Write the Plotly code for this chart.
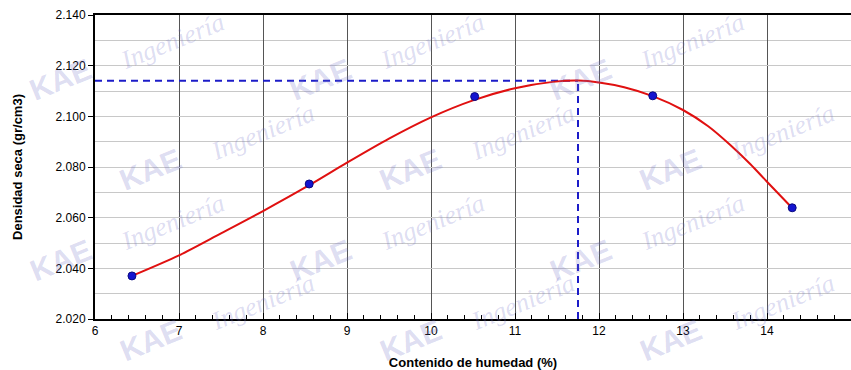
import plotly.graph_objects as go

# Measured points
humedad = [6.44, 8.55, 10.52, 12.64, 14.30]
densidad = [2.037, 2.0733, 2.1078, 2.1081, 2.0639]

# Fitted curve
curva_x = [6.44, 7.0, 7.5, 8.0, 8.55, 9.0, 9.5, 10.0, 10.5, 11.0, 11.45, 11.75,
           12.0, 12.3, 12.64, 13.0, 13.3, 13.56, 13.8, 14.0, 14.3]
curva_y = [2.0370, 2.0451, 2.0538, 2.0626, 2.0728, 2.0817, 2.0912, 2.0996, 2.1063, 2.1111, 2.1136, 2.1141,
           2.1134, 2.1115, 2.1080, 2.1025, 2.0961, 2.0888, 2.0812, 2.0742, 2.0638]

# Optimum
hum_opt = 11.75
dens_opt = 2.114

x_min, x_max = 6, 15
y_min, y_max = 2.020, 2.140

fig = go.Figure()

# watermark (pixel centres converted to paper coordinates)
wm_color = "rgba(110,110,200,0.24)"
wm_rows = [(80, [60, 320, 580]), (170, [150, 410, 670]), (260, [60, 320, 580]), (340, [150, 410, 670])]


def to_paper(px, py):
    return (px - 95) / 756, 1 - (py - 15) / 304


for (py, xs) in wm_rows:
    for px in xs:
        kx, ky = to_paper(px, py)
        ix, iy = to_paper(px + 112, py - 38)
        fig.add_annotation(xref="paper", yref="paper", x=kx, y=ky, xanchor="center", yanchor="middle",
                           text="<b>KAE</b>", showarrow=False, textangle=-22,
                           font=dict(family="Liberation Sans", size=30, color=wm_color))
        fig.add_annotation(xref="paper", yref="paper", x=ix, y=iy, xanchor="center", yanchor="middle",
                           text="<i>Ingeniería</i>", showarrow=False, textangle=-22,
                           font=dict(family="Liberation Serif", size=26, color=wm_color))

fig.add_trace(go.Scatter(x=[x_min, hum_opt], y=[dens_opt, dens_opt], mode="lines",
                         line=dict(color="#1c1cc8", width=2, dash="7px,5px"), hoverinfo="skip"))
fig.add_trace(go.Scatter(x=[hum_opt, hum_opt], y=[y_min, dens_opt], mode="lines",
                         line=dict(color="#1c1cc8", width=2, dash="7px,5px"), hoverinfo="skip"))
fig.add_trace(go.Scatter(x=curva_x, y=curva_y, mode="lines",
                         line=dict(color="#e01010", width=2, shape="spline", smoothing=0.8)))
fig.add_trace(go.Scatter(x=humedad, y=densidad, mode="markers",
                         marker=dict(color="#1414d0", size=8, line=dict(color="#0a0a80", width=1))))

fig.update_layout(
    width=851, height=370, margin=dict(l=95, r=0, t=15, b=51),
    paper_bgcolor="white", plot_bgcolor="white", showlegend=False,
    font=dict(family="Liberation Sans", size=12, color="black"),
)
fig.update_xaxes(
    range=[x_min, x_max], dtick=1, tick0=6, showgrid=True, gridcolor="#555555", gridwidth=1,
    showline=True, linecolor="black", linewidth=2, mirror=True, zeroline=False,
    ticks="inside", ticklen=6, tickcolor="black",
    minor=dict(dtick=0.2, ticks="inside", ticklen=4, tickcolor="black", showgrid=False),
    title=dict(text="<b>Contenido de humedad (%)</b>", font=dict(size=13), standoff=20),
    tickfont=dict(size=12),
)
fig.update_yaxes(
    range=[y_min, y_max], dtick=0.02, tickformat=".3f", showgrid=True, gridcolor="#c8c8c8", gridwidth=1,
    showline=True, linecolor="black", linewidth=2, zeroline=False,
    ticks="outside", ticklen=5, tickcolor="black",
    minor=dict(dtick=0.01, showgrid=True, gridcolor="#c8c8c8"),
    title=dict(text="<b>Densidad seca (gr/cm3)</b>", font=dict(size=13), standoff=30),
    tickfont=dict(size=12),
)

fig.write_html("out.html")
